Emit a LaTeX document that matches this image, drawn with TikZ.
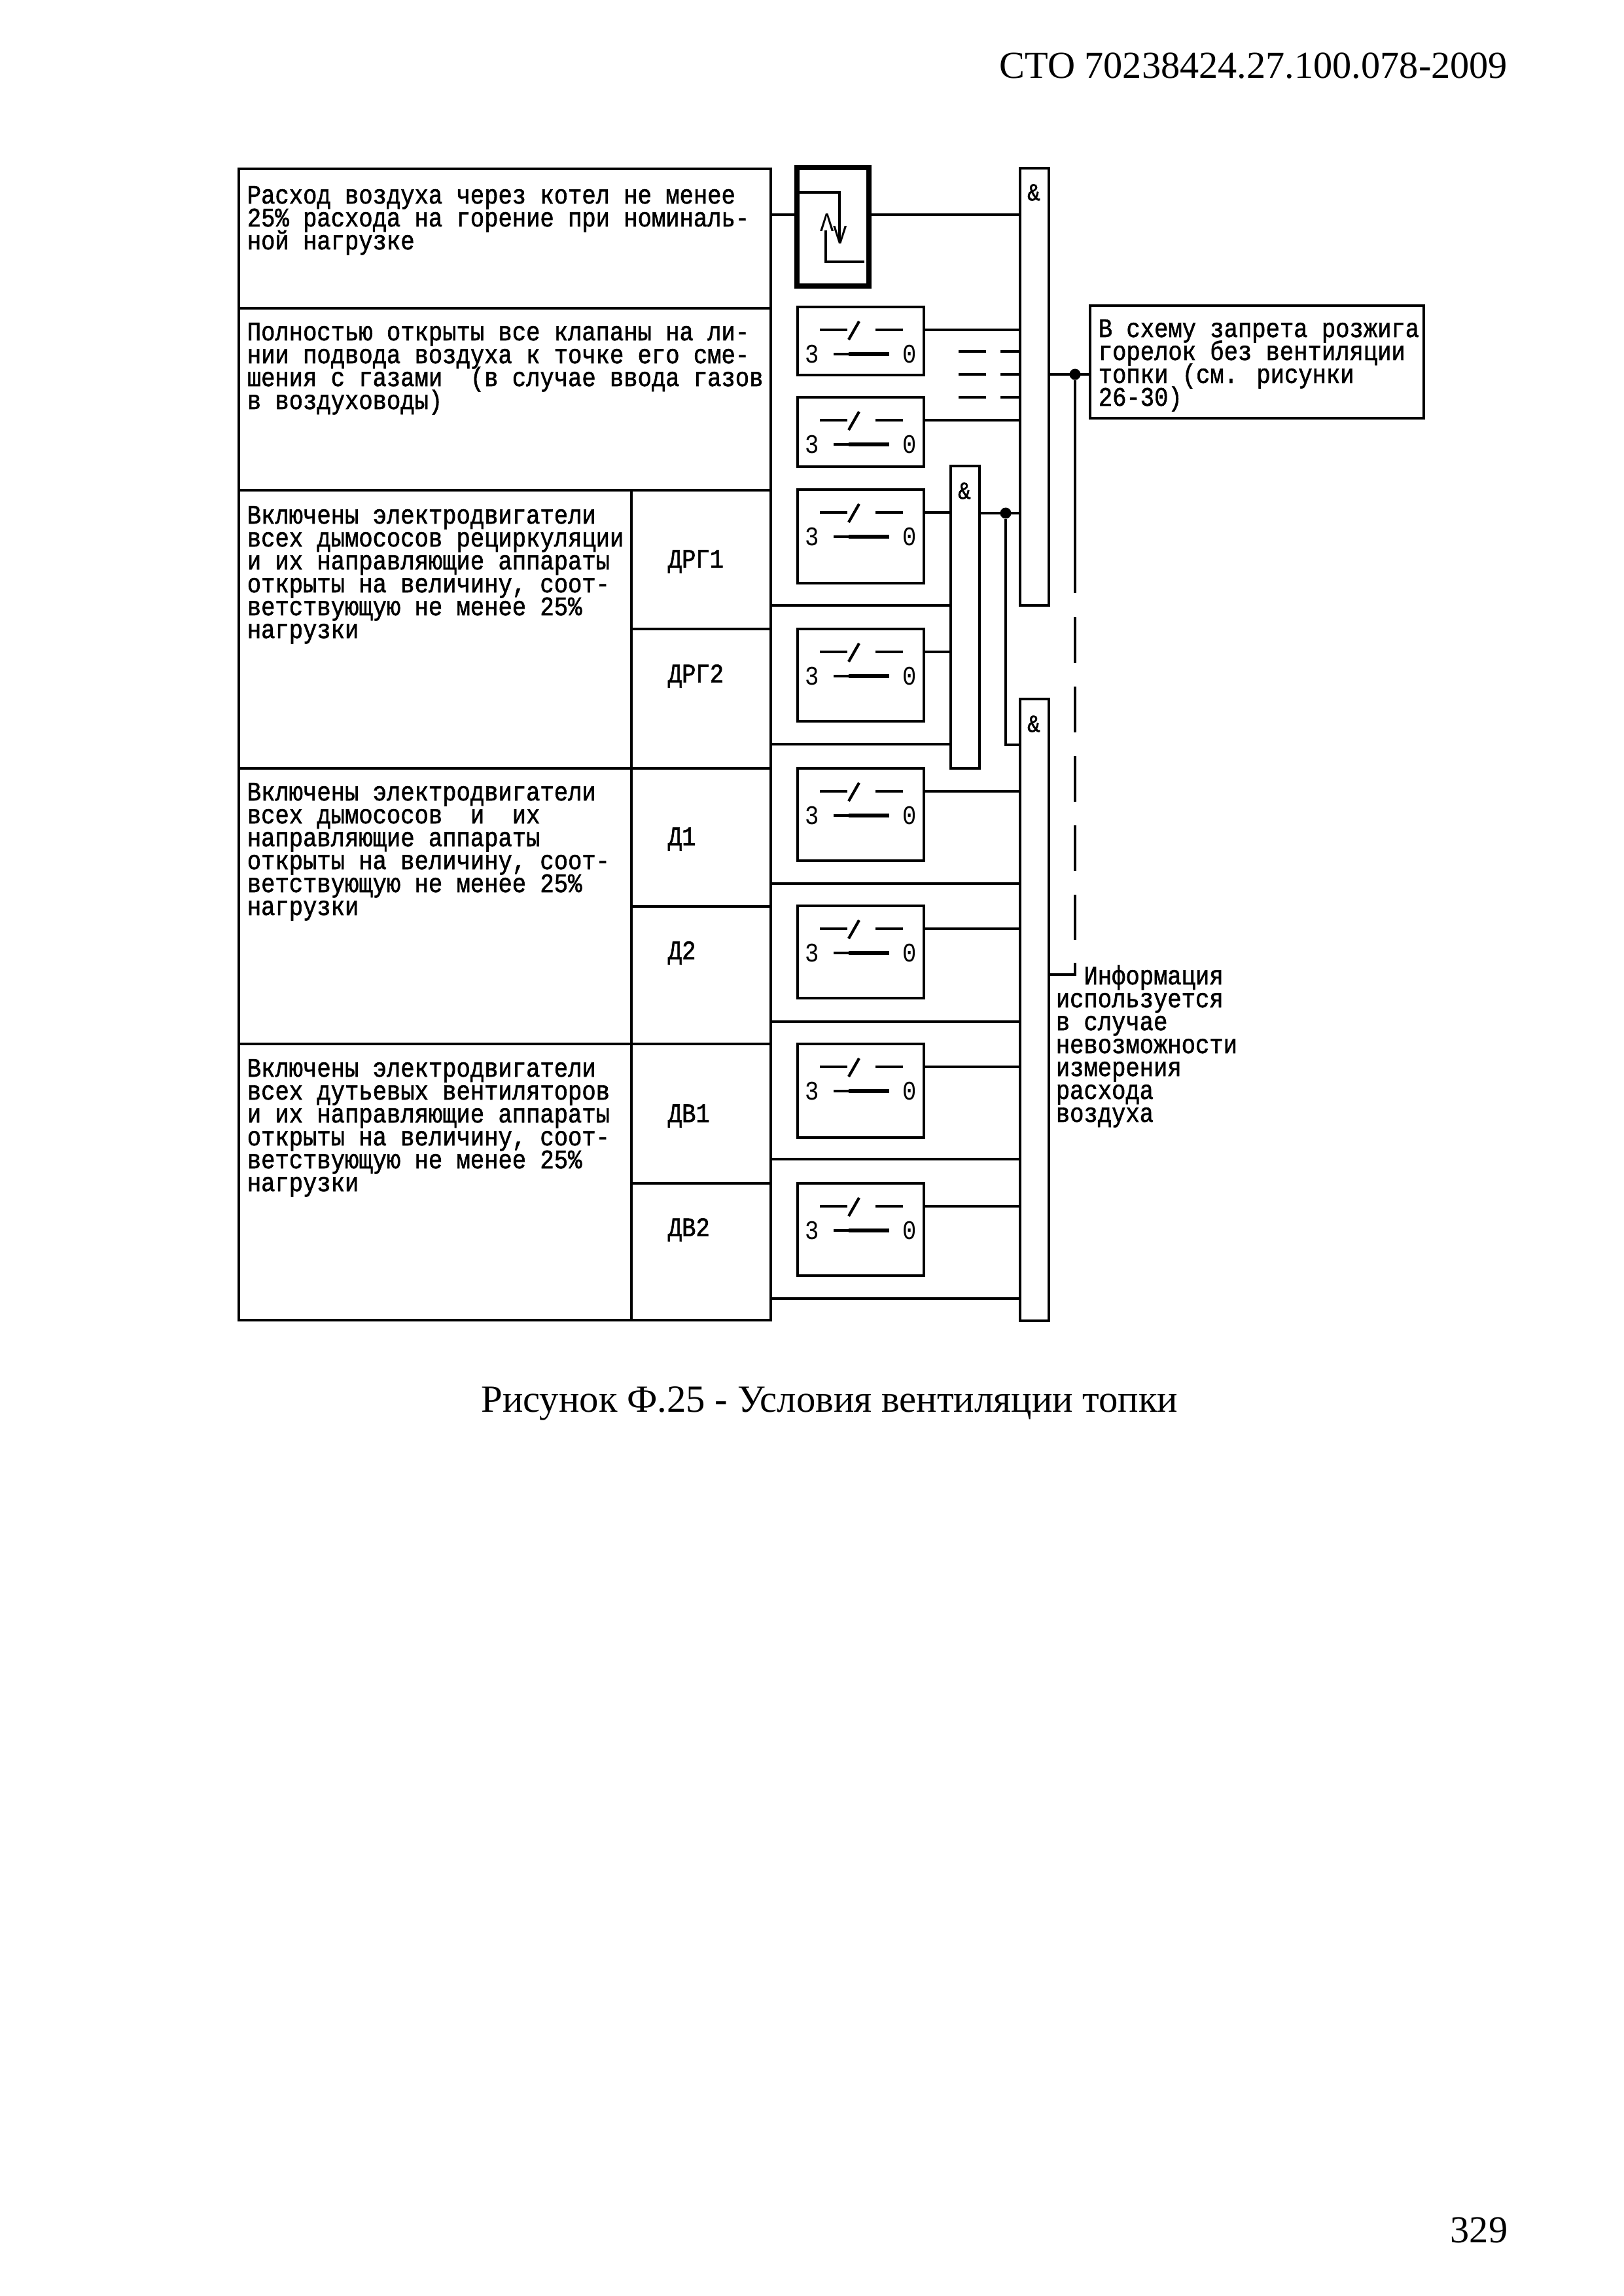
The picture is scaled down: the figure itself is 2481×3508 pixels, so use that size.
\documentclass[tikz,border=0pt]{standalone}
\usepackage{fontspec}
\setmainfont{Liberation Serif}
\newfontfamily\plcfont[FakeStretch=0.87,FakeBold=1.4]{Liberation Mono}
\newfontfamily\plcthin[FakeStretch=0.87]{Liberation Mono}
\def\unit{0.24pt}
\lineskiplimit=-9pt
\tikzset{
  cell/.style={draw,line width=1.15pt,anchor=north west,inner sep=0pt,outer sep=0pt},
  bar/.style={cell,line width=1.05pt,minimum width=44*\unit},
  wire/.style={line width=1pt},
  remark/.style={anchor=base west,align=left,inner sep=0pt,
    font=\plcfont\fontsize{9.8}{8.4}\selectfont},
  tag/.style={anchor=west,inner sep=0pt,font=\plcfont\fontsize{9.8}{8.4}\selectfont},
  digit/.style={inner sep=0pt,font=\plcthin\fontsize{9.8}{9.8}\selectfont},
  amp/.style={inner sep=0pt,font=\plcfont\fontsize{9}{9}\selectfont},
  joint/.style={circle,fill,inner sep=0pt,minimum size=17*\unit},
  page/.style={inner sep=0pt,font=\fontsize{14}{16}\selectfont}
}
\begin{document}
\begin{tikzpicture}[x=\unit,y=-\unit]
      \useasboundingbox (0,0) rectangle (2481,3508);
      \node[page,anchor=base east] (header) at (2305,120) {СТО 70238424.27.100.078-2009};
      \node[page,anchor=base,font=\fontsize{14.1}{16}\selectfont] (caption) at (1268,2157) {Рисунок Ф.25 - Условия вентиляции топки};
      \node[page,anchor=base east] (pagenum) at (2305,3426) {329};
      \node[cell,minimum width=813*\unit,minimum height=213*\unit] (rowair) at (365,258) {};
      \node[cell,minimum width=813*\unit,minimum height=278*\unit] (rowvalve) at (365,471) {};
      \foreach \name/\top/\high in {rowdrg/749/425,rowd/1174/421,rowdv/1595/422}{
      \node[cell,minimum width=600*\unit,minimum height=\high*\unit] (\name) at (365,\top) {};
      }
      \foreach \name/\top/\high/\label/\laby in {tagdrga/749/212/ДРГ1/858,tagdrgb/961/213/ДРГ2/1033,tagda/1174/211/Д1/1282,tagdb/1385/210/Д2/1456,tagdva/1595/213/ДВ1/1705,tagdvb/1808/209/ДВ2/1879}{
      \node[cell,minimum width=213*\unit,minimum height=\high*\unit] (\name) at (965,\top) {};
      \node[tag] (\name text) at (1020,\laby) {\label};
      }
      \node[remark] (textair) at (377,381) {Расход воздуха через котел не менее\\25\% расхода на горение при номиналь-\\ной нагрузке};
      \node[remark] (textvalve) at (377,625) {Полностью открыты все клапаны на ли-\\нии подвода воздуха к точке его сме-\\шения с газами~~(в случае ввода газов\\в воздуховоды)};
      \node[remark] (textdrg) at (377,975) {Включены электродвигатели\\всех дымососов рециркуляции\\и их направляющие аппараты\\открыты на величину, соот-\\ветствующую не менее 25\%\\нагрузки};
      \node[remark] (textd) at (377,1398) {Включены электродвигатели\\всех дымососов~~и~~их\\направляющие аппараты\\открыты на величину, соот-\\ветствующую не менее 25\%\\нагрузки};
      \node[remark] (textdv) at (377,1820) {Включены электродвигатели\\всех дутьевых вентиляторов\\и их направляющие аппараты\\открыты на величину, соот-\\ветствующую не менее 25\%\\нагрузки};
      \node[bar,minimum height=668*\unit] (anda) at (1559,257) {};
      \node[bar,minimum height=462*\unit] (andc) at (1453,712) {};
      \node[bar,minimum height=950*\unit] (andb) at (1559,1068) {};
      \node[amp] (ampa) at (1580,294) {\&};
      \node[amp] (ampc) at (1474,750) {\&};
      \node[amp] (ampb) at (1580,1106) {\&};
      \node[cell,line width=1.9pt,minimum width=110*\unit,minimum height=181*\unit] (sensor) at (1218,256) {};
      \draw[wire] (1222,294) -- (1283,294) -- (1283,368);
      \draw[wire] (1321,400) -- (1262,400) -- (1262,352);
      \node[digit] (sensorup) at (1264,340) {Λ};
      \node[digit] (sensordown) at (1284,359) {V};
      \coordinate (airwire) at (1178,328);
      \draw[wire] (airwire) -- (airwire -| sensor.west);
      \draw[wire] (airwire -| sensor.east) -- (airwire -| anda.west);
      \foreach \name/\top/\high/\target in {swa/469/104/anda,swb/607/106/anda,swc/748/143/andc,swd/961/141/andc,swe/1174/141/andb,swf/1384/141/andb,swg/1595/143/andb,swh/1808/141/andb}{
      \node[cell,minimum width=193*\unit,minimum height=\high*\unit] (\name) at (1219,\top) {};
      \draw[wire] (1253,\top+35) -- (1295,\top+35);
      \draw[wire] (1338,\top+35) -- (1380,\top+35);
      \draw[wire] (1297,\top+50) -- (1313,\top+22);
      \draw[wire] (1274,\top+72) -- (1297,\top+72);
      \draw[line width=1.6pt] (1297,\top+72) -- (1359,\top+72);
      \node[digit] (\name three) at (1241,\top+72) {3};
      \node[digit] (\name zero) at (1390,\top+72) {0};
      \coordinate (\name out) at (1412,\top+35);
      \draw[wire] (\name out) -- (\name out -| \target.west);
      }
      \foreach \name/\top/\target in {swc/749/andc,swd/961/andc,swe/1174/andb,swf/1385/andb,swg/1595/andb,swh/1808/andb}{
      \coordinate (\name feed) at (1178,\top+176);
      \draw[wire] (\name feed) -- (\name feed -| \target.west);
      }
      \foreach \i/\y in {1/537,2/572,3/607}{
      \coordinate (gap\i) at (1465,\y);
      \draw[wire,dash pattern=on 10.08pt off 5.28pt] (gap\i) -- (gap\i -| anda.west);
      }
      \node[cell,minimum width=510*\unit,minimum height=172*\unit] (report) at (1666,467) {};
      \node[remark] (textreport) at (1678,620) {В схему запрета розжига\\горелок без вентиляции\\топки (см. рисунки\\26-30)};
      \coordinate (outa) at (1602,572);
      \draw[wire] (outa) -- (outa -| report.west);
      \node[joint] (jointa) at (1643,572) {};
      \coordinate (dashtop) at (1643,906);
      \coordinate (dashstart) at (1643,943);
      \coordinate (dashend) at (1643,1436);
      \coordinate (stub) at (1643,1471);
      \coordinate (corner) at (1643,1489);
      \draw[wire] (jointa) -- (dashtop);
      \draw[wire,dash pattern=on 16.8pt off 8.64pt] (dashstart) -- (dashend);
      \draw[wire] (stub) -- (corner) -- (corner -| andb.east);
      \coordinate (outc) at (1497,784);
      \node[joint] (jointc) at (1537,784) {};
      \coordinate (turn) at (1537,1138);
      \draw[wire] (outc) -- (outc -| anda.west);
      \draw[wire] (jointc) -- (turn) -- (turn -| andb.west);
      \node[remark] (textnote) at (1613,1714) {~~Информация\\используется\\в случае\\невозможности\\измерения\\расхода\\воздуха};
  \end{tikzpicture}
\end{document}
